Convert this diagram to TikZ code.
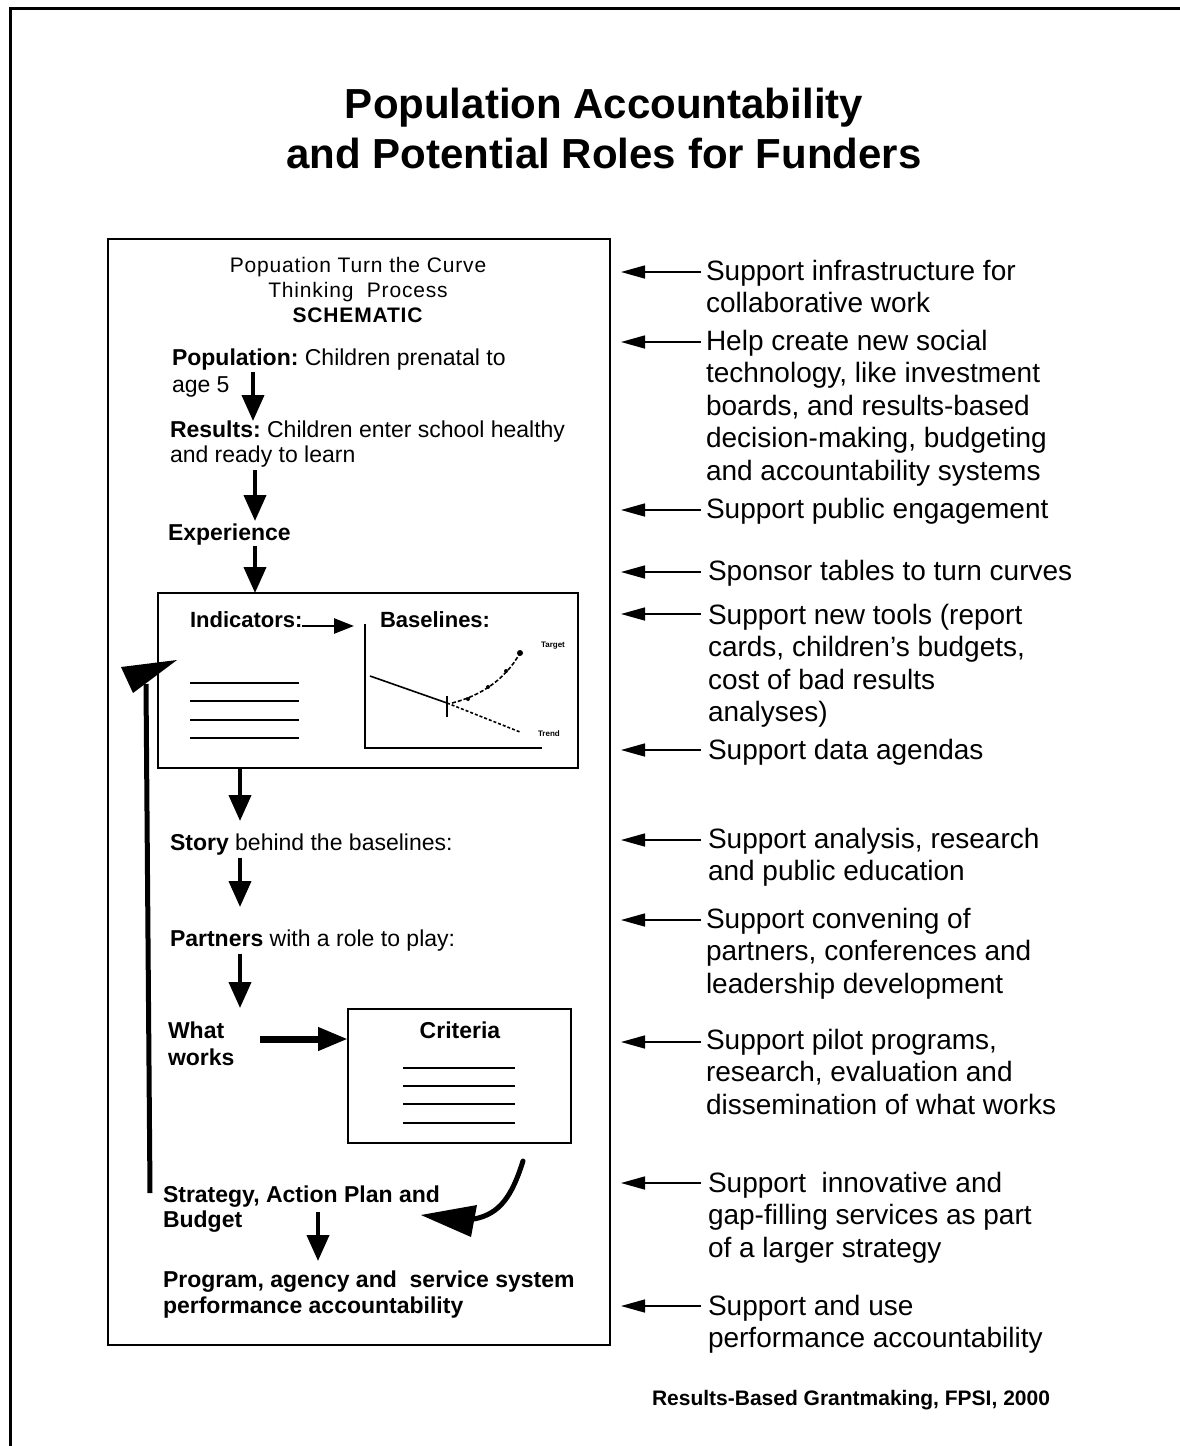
\documentclass[tikz,border=0pt]{standalone}
\usepackage{fontspec}
\setmainfont{Liberation Sans}
\usetikzlibrary{arrows.meta}
\begin{document}
\frenchspacing
\begin{tikzpicture}[x=1pt,y=-1pt,
  every node/.style={inner sep=0pt, outer sep=0pt},
  titletext/.style={font=\fontsize{42}{50}\selectfont\bfseries, align=center, anchor=base},
  hdrtext/.style={font=\fontsize{21}{25}\selectfont\addfontfeatures{LetterSpace=4}, align=center, anchor=base},
  sch/.style={font=\fontsize{23}{27}\selectfont, align=left, anchor=base west},
  schb/.style={sch, font=\fontsize{23}{27}\selectfont\bfseries},
  role/.style={font=\fontsize{28}{32.5}\selectfont, align=left, anchor=base west},
  box/.style={draw, line width=2pt, anchor=north west},
  flow/.style={line width=4pt, -{Triangle[length=26pt,width=22pt]}},
  rarrow/.style={line width=1.5pt, -{Triangle[length=24pt,width=13pt]}},
  hline/.style={line width=2pt},
]
\useasboundingbox (0,0) rectangle (1180,1446);
\fill[white] (0,0) rectangle (1180,1446);
% outer frame (open on right and bottom)
\draw[line width=3pt] (10,1446) -- (10,8) -- (1180,8);

% title (base anchor = baseline of last line)
\node[titletext] (title) at (604,168) {Population Accountability\\and Potential Roles for Funders};

% main schematic box
\node[box, minimum width=502pt, minimum height=1106pt] (mainbox) at (108,239) {};
\node[hdrtext] (hdr) at (358,322) {Popuation Turn the Curve\\Thinking\ \ Process\\\textbf{SCHEMATIC}};

\node[sch] (pop) at (172,392) {\textbf{Population:} Children prenatal to\\age 5};
\node[sch] (res) at (170,462) {\textbf{Results:} Children enter school healthy\\[-2pt]and ready to learn};
\node[schb] (exp) at (168,540) {Experience};

% indicators box
\node[box, minimum width=420pt, minimum height=175pt] (indbox) at (158,593) {};
\node[sch, font=\fontsize{22}{26}\selectfont\bfseries] (ind) at (190,627) {Indicators:};
\node[sch, font=\fontsize{22}{26}\selectfont\bfseries] (bas) at (380,627) {Baselines:};
\foreach \yy in {683,701,720,738} \draw[hline] (190,\yy) -- (299,\yy);
% chart
\draw[line width=2pt] (365,624) -- (365,748) -- (542,748);
\draw[line width=1.6pt] (370,676) -- (447,703);
\draw[line width=1.6pt, dash pattern=on 3pt off 2pt] (447,703) -- (520,732);
\draw[line width=2pt] (447,696) -- (447,717);
\draw[line width=1.6pt, dash pattern=on 4pt off 2pt] (452,703) .. controls (480,696) and (505,680) .. (520,653);
\foreach \px/\py in {468/699,488/687,506/671} \fill (\px,\py) circle (2pt);
\fill (520,653) circle (3pt);
\node[font=\fontsize{8}{9}\selectfont\bfseries, anchor=base west] (tgt) at (541,647) {Target};
\node[font=\fontsize{8}{9}\selectfont\bfseries, anchor=base west] (trd) at (538,736) {Trend};
\coordinate (indA) at (302,626);
\coordinate (basA) at (354,626);
\draw[line width=2.5pt, -{Triangle[length=20pt,width=15pt]}] (indA) -- (basA);

\node[sch] (story) at (170,850) {\textbf{Story} behind the baselines:};
\node[sch] (partn) at (170,946) {\textbf{Partners} with a role to play:};
\node[schb] (what) at (168,1065) {What\\works};

% criteria box
\node[box, minimum width=223pt, minimum height=134pt] (critbox) at (348,1009) {};
\node[font=\fontsize{23}{27}\selectfont\bfseries, anchor=base] (crit) at (460,1038) {Criteria};
\foreach \yy in {1068,1086,1104,1123} \draw[hline] (403,\yy) -- (515,\yy);

\node[schb] (strat) at (163,1227) {Strategy, Action Plan and\\[-2pt]Budget};
\node[schb] (prog) at (163,1313) {Program, agency and\ \ service system\\[-1pt]performance accountability};

% schematic flow arrows
\coordinate (f1a) at (253,372); \coordinate (f1b) at (253,421);
\coordinate (f2a) at (255,470); \coordinate (f2b) at (255,521);
\coordinate (f3a) at (255,546); \coordinate (f3b) at (255,593);
\coordinate (f4a) at (240,768); \coordinate (f4b) at (240,821);
\coordinate (f5a) at (240,858); \coordinate (f5b) at (240,907);
\coordinate (f6a) at (240,954); \coordinate (f6b) at (240,1008);
\coordinate (f8a) at (318,1212); \coordinate (f8b) at (318,1261);
\draw[flow] (f1a) -- (f1b);
\draw[flow] (f2a) -- (f2b);
\draw[flow] (f3a) -- (f3b);
\draw[flow] (f4a) -- (f4b);
\draw[flow] (f5a) -- (f5b);
\draw[flow] (f6a) -- (f6b);
\draw[flow] (f8a) -- (f8b);
\coordinate (f7a) at (260,1039);
\draw[line width=7pt, -{Triangle[length=30pt,width=22pt]}] (f7a) -- (critbox.west |- f7a);

% feedback arrow
\coordinate (fbA) at (150,1193);
\coordinate (fbB) at (146,684);
\draw[line width=5pt] (fbA) -- (fbB);
\fill (177,660) -- (121,667) -- (133,693) -- cycle;

% curved arrow from criteria to strategy
\coordinate (cvA) at (523,1161);
\coordinate (cvB) at (474,1219);
\draw[line width=5pt, line cap=round] (cvA) .. controls (512,1196) and (500,1214) .. (cvB);
\fill (421,1215) -- (477,1205) -- (471,1237) -- cycle;

% right column: roles (base anchor = baseline of last line)
\node[role] (r1) at (706,312.5) {Support infrastructure for\\collaborative work};
\node[role] (r2) at (706,480) {Help create new social\\technology, like investment\\boards, and results-based\\decision-making, budgeting\\and accountability systems};
\node[role] (r3) at (706,518) {Support public engagement};
\node[role] (r4) at (708,580) {Sponsor tables to turn curves};
\node[role] (r5) at (708,721.5) {Support new tools (report\\cards, children's budgets,\\cost of bad results\\analyses)};
\node[role] (r6) at (708,759) {Support data agendas};
\node[role] (r7) at (708,880.5) {Support analysis, research\\and public education};
\node[role] (r8) at (706,993) {Support convening of\\partners, conferences and\\leadership development};
\node[role] (r9) at (706,1114) {Support pilot programs,\\research, evaluation and\\dissemination of what works};
\node[role] (r10) at (708,1257) {Support\ \ innovative and\\gap-filling services as part\\of a larger strategy};
\node[role] (r11) at (708,1347.5) {Support and use\\performance accountability};

\foreach \i/\yy in {1/272,2/342,3/510,4/572,5/614,6/750,7/840,8/920,9/1042,10/1183,11/1306}{
  \coordinate (ra\i) at (701,\yy);
  \coordinate (rt\i) at (621,\yy);
  \draw[rarrow] (ra\i) -- (rt\i);
}

% credit
\node[font=\fontsize{21}{25}\selectfont\bfseries, anchor=base west] (credit) at (652,1405) {Results-Based Grantmaking, FPSI, 2000};
\end{tikzpicture}
\end{document}
